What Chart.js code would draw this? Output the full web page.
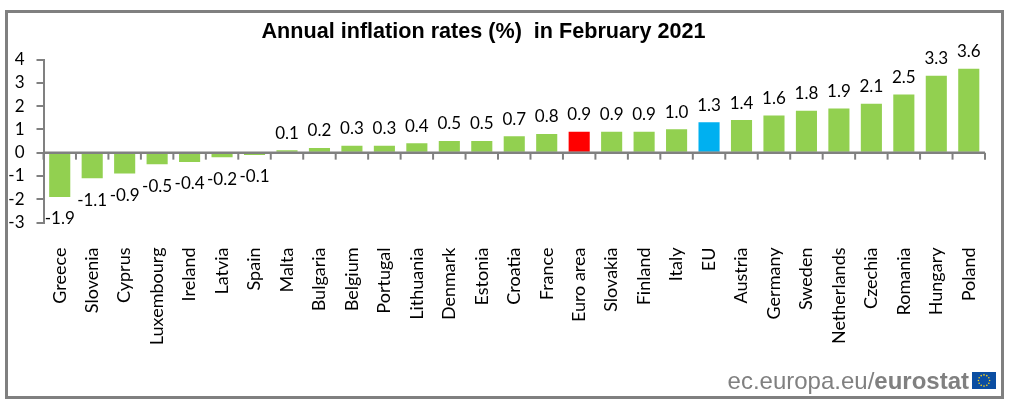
<!DOCTYPE html>
<html>
<head>
<meta charset="utf-8">
<title>Annual inflation rates</title>
<script src="https://cdn.jsdelivr.net/npm/chart.js@4/dist/chart.umd.min.js"></script>
<style>
  html, body { margin: 0; padding: 0; background: #fff; overflow: hidden; }
  #wrap { position: relative; width: 1014px; height: 411px; }
  #myChart { position: absolute; left: 0; top: 0; }
  #frame { position: absolute; left: 5px; top: 10px; width: 993px; height: 383px; border: 3px solid #808080; }
  #title { position: absolute; left: 0; width: 967px; top: 18px; text-align: center; font: bold 21.6px "Liberation Sans", sans-serif; color: #000; }
  #source { position: absolute; right: 45px; top: 367px; font: 24px "Liberation Sans", sans-serif; color: #808080; white-space: nowrap; }
  #source b { font-weight: bold; }
  #flag { position: absolute; left: 972px; top: 372px; }
</style>
</head>
<body>
<div id="wrap">
  <canvas id="myChart" width="1014" height="411"></canvas>
  <div id="frame"></div>
  <div id="title">Annual inflation rates (%)&nbsp; in February 2021</div>
  <div id="source">ec.europa.eu/<b>eurostat</b></div>
  <svg id="flag" width="24" height="17"><rect width="24" height="17" fill="#0b4ea2"></rect></svg>
</div>
<script>
  const categories = ['Greece', 'Slovenia', 'Cyprus', 'Luxembourg', 'Ireland', 'Latvia', 'Spain', 'Malta',
    'Bulgaria', 'Belgium', 'Portugal', 'Lithuania', 'Denmark', 'Estonia', 'Croatia', 'France', 'Euro area',
    'Slovakia', 'Finland', 'Italy', 'EU', 'Austria', 'Germany', 'Sweden', 'Netherlands', 'Czechia', 'Romania',
    'Hungary', 'Poland'];
  const rates = [-1.9, -1.1, -0.9, -0.5, -0.4, -0.2, -0.1, 0.1, 0.2, 0.3, 0.3, 0.4, 0.5, 0.5, 0.7, 0.8, 0.9,
    0.9, 0.9, 1.0, 1.3, 1.4, 1.6, 1.8, 1.9, 2.1, 2.5, 3.3, 3.6];
  const yTicks = [4, 3, 2, 1, 0, -1, -2, -3];

  const GREEN = '#92d050';
  const RED = '#ff0000';
  const BLUE = '#00b0f0';
  const GREY = '#808080';
  const LABEL_FONT = '17px Lato, sans-serif';

  const barColor = function (name) {
    if (name === 'Euro area') return RED;
    if (name === 'EU') return BLUE;
    return GREEN;
  };

  /* stars of the flag */
  const flag = document.getElementById('flag');
  for (let i = 0; i < 12; i++) {
    const star = document.createElementNS('http://www.w3.org/2000/svg', 'circle');
    const angle = (i * Math.PI) / 6;
    star.setAttribute('cx', 12 + 5.6 * Math.cos(angle));
    star.setAttribute('cy', 8.5 + 5.6 * Math.sin(angle));
    star.setAttribute('r', 0.8);
    star.setAttribute('fill', '#ffd617');
    flag.appendChild(star);
  }

  /* horizontal axis sits on zero, labels stay at the bottom */
  const zeroAxis = {
    id: 'zeroAxis',
    afterDatasetsDraw(chart) {
      const { ctx, chartArea, scales } = chart;
      const y0 = scales.y.getPixelForValue(0);
      const step = scales.x.getPixelForValue(1) - scales.x.getPixelForValue(0);
      ctx.save();
      ctx.strokeStyle = GREY;
      ctx.lineWidth = 2.5;
      ctx.beginPath();
      ctx.moveTo(chartArea.left, y0);
      ctx.lineTo(chartArea.right, y0);
      ctx.stroke();
      ctx.lineWidth = 2;
      for (let i = 0; i <= categories.length; i++) {
        const x = chartArea.left + i * step;
        ctx.beginPath();
        ctx.moveTo(x, y0);
        ctx.lineTo(x, y0 + 7);
        ctx.stroke();
      }
      ctx.restore();
    },
  };

  const valueLabels = {
    id: 'valueLabels',
    afterDraw(chart) {
      const { ctx } = chart;
      const bars = chart.getDatasetMeta(0).data;
      ctx.save();
      ctx.font = LABEL_FONT;
      ctx.fillStyle = '#000';
      ctx.textAlign = 'center';
      ctx.textBaseline = 'middle';
      bars.forEach(function (bar, i) {
        const offset = rates[i] < 0 ? 22 : -17;
        ctx.fillText(rates[i].toFixed(1), bar.x, bar.y + offset);
      });
      ctx.restore();
    },
  };

  new Chart(document.getElementById('myChart').getContext('2d'), {
    type: 'bar',
    data: {
      labels: categories,
      datasets: [
        {
          data: rates,
          backgroundColor: categories.map(barColor),
          barPercentage: 0.65,
          categoryPercentage: 1,
        },
      ],
    },
    options: {
      responsive: false,
      animation: false,
      layout: { padding: { top: 59.5, right: 29 } },
      plugins: { legend: { display: false }, tooltip: { enabled: false }, title: { display: false } },
      scales: {
        x: {
          grid: { display: false },
          border: { display: false },
          afterFit(scale) { scale.height = 188.5; },
          ticks: {
            autoSkip: false,
            minRotation: 90,
            maxRotation: 90,
            padding: 17,
            color: '#000',
            font: { family: 'Lato, sans-serif', size: 18 },
          },
        },
        y: {
          min: -3,
          max: 4,
          afterBuildTicks(scale) { scale.ticks = yTicks.map((value) => ({ value })); },
          afterFit(scale) { scale.width = 43.5; },
          grid: { drawOnChartArea: false, drawTicks: true, tickLength: 7, color: GREY, lineWidth: 2 },
          border: { color: GREY, width: 2 },
          ticks: { autoSkip: false, padding: 12, color: '#000', font: { family: 'Lato, sans-serif', size: 17 } },
        },
      },
    },
    plugins: [zeroAxis, valueLabels],
  });
</script>
</body>
</html>
